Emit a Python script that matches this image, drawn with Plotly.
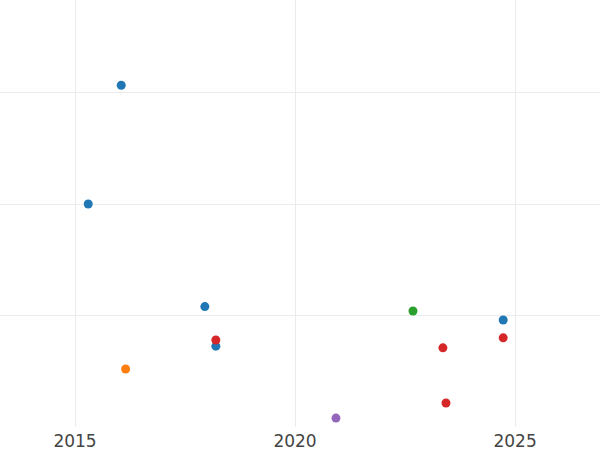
import plotly.graph_objects as go

# year (decimal) and value for each point, grouped by colour
blue_x = [2016.05, 2015.30, 2017.95, 2018.20, 2024.73]
blue_y = [30.65, 20.0, 10.8, 7.25, 9.6]
red_x = [2018.20, 2024.73, 2023.36, 2023.43]
red_y = [7.8, 8.0, 7.1, 2.15]
orange_x = [2016.15]
orange_y = [5.2]
green_x = [2022.68]
green_y = [10.4]
purple_x = [2020.93]
purple_y = [0.8]

groups = [
    (blue_x, blue_y, "#1f77b4"),
    (red_x, red_y, "#d62728"),
    (orange_x, orange_y, "#ff7f0e"),
    (green_x, green_y, "#2ca02c"),
    (purple_x, purple_y, "#9467bd"),
]

fig = go.Figure()
for xs, ys, col in groups:
    fig.add_trace(go.Scatter(
        x=xs, y=ys, mode="markers",
        marker=dict(size=9, color=col),
        hoverinfo="x+y",
    ))

fig.update_layout(
    width=600, height=450,
    margin=dict(l=0, r=0, t=0, b=23),
    paper_bgcolor="white",
    plot_bgcolor="white",
    showlegend=False,
    font=dict(family="DejaVu Sans", size=17, color="#444"),
    xaxis=dict(
        range=[2013.295, 2026.93],
        tickvals=[2015, 2020, 2025],
        gridcolor="#ebebeb",
        zeroline=False,
        showline=False,
        ticks="",
        ticklabelstandoff=2,
    ),
    yaxis=dict(
        range=[0, 38.3],
        tickvals=[10, 20, 30],
        showticklabels=False,
        gridcolor="#ebebeb",
        zeroline=False,
        showline=False,
        ticks="",
    ),
)

# drop the default page margin so the chart fills the window
fig.write_html("out.html", config={"displayModeBar": False},
               post_script="document.body.style.margin='0';")
